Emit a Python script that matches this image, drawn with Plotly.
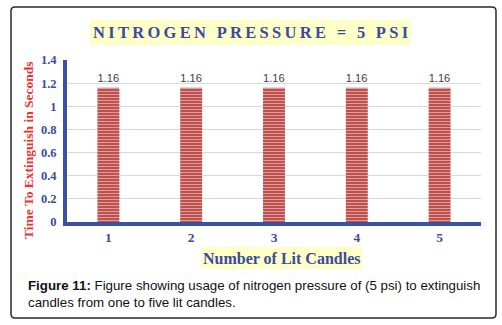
import plotly.graph_objects as go

# ---- data ----
candles = ["1", "2", "3", "4", "5"]
times = [1.16, 1.16, 1.16, 1.16, 1.16]
value_labels = ["1.16", "1.16", "1.16", "1.16", "1.16"]
y_ticks = [0, 0.2, 0.4, 0.6, 0.8, 1, 1.2, 1.4]
y_tick_labels = ["0", "0.2", "0.4", "0.6", "0.8", "1", "1.2", "1.4"]

title_text = "NITROGEN PRESSURE = 5 PSI"
x_title = "Number of Lit Candles"
y_title = "Time To Extinguish in Seconds"
caption = ("<b>Figure 11:</b> Figure showing usage of nitrogen pressure of (5 psi) to extinguish"
           "<br>candles from one to five lit candles.")

# ---- layout geometry (pixels) ----
W, H = 502, 325
PL, PR, PT, PB = 67, 481, 60, 222  # plot area edges


def px(x):
    return (x - PL) / (PR - PL)


def py(y):
    return (PB - y) / (PB - PT)


BLUE = "#3B51A3"
TITLE_BLUE = "#3A4B9E"
RED_TXT = "#F03030"
BAR_RED = "#C0504D"
YELLOW = "#FFFFC8"
SERIF = "Liberation Serif, Times New Roman, serif"
SANS = "Liberation Sans, Arial, sans-serif"

fig = go.Figure()
fig.add_trace(go.Bar(
    x=candles,
    y=times,
    width=0.265,
    text=value_labels,
    textposition="outside",
    textfont=dict(family=SANS, size=12, color="#404040"),
    cliponaxis=False,
    marker=dict(
        color=BAR_RED,
        line=dict(width=0),
        pattern=dict(shape="-", fgcolor="white", bgcolor=BAR_RED, size=3, solidity=0.3),
    ),
    hoverinfo="skip",
))

spaced_title = "\u2009".join(list(title_text))


def P(x, y):
    return f"{px(x):.5f},{py(y):.5f}"


# rounded frame path
fx0, fy0, fx1, fy1, r = 11, 7, 496, 318, 4
path = (f"M{P(fx0 + r, fy0)} L{P(fx1 - r, fy0)} Q{P(fx1, fy0)} {P(fx1, fy0 + r)} "
        f"L{P(fx1, fy1 - r)} Q{P(fx1, fy1)} {P(fx1 - r, fy1)} "
        f"L{P(fx0 + r, fy1)} Q{P(fx0, fy1)} {P(fx0, fy1 - r)} "
        f"L{P(fx0, fy0 + r)} Q{P(fx0, fy0)} {P(fx0 + r, fy0)} Z")

shapes = [
    dict(type="path", xref="paper", yref="paper", path=path,
         line=dict(color="#2a2a2a", width=1.5), fillcolor="rgba(0,0,0,0)", layer="above"),
    # title background
    dict(type="rect", xref="paper", yref="paper", x0=px(90), x1=px(411), y0=py(45), y1=py(20),
         fillcolor=YELLOW, line=dict(width=0), layer="below"),
    # x title background
    dict(type="rect", xref="paper", yref="paper", x0=px(201), x1=px(362), y0=py(269), y1=py(247),
         fillcolor=YELLOW, line=dict(width=0), layer="below"),
]

annotations = [
    dict(text=f"<b>{spaced_title}</b>", xref="paper", yref="paper", x=px(250.5), y=py(33),
         xanchor="center", yanchor="middle", showarrow=False,
         font=dict(family=SERIF, size=16.5, color=TITLE_BLUE)),
    dict(text=f"<b>{x_title}</b>", xref="paper", yref="paper", x=px(281.5), y=py(258),
         xanchor="center", yanchor="middle", showarrow=False,
         font=dict(family=SERIF, size=16, color=TITLE_BLUE)),
    dict(text=f"<b>{y_title}</b>", xref="paper", yref="paper", x=px(28), y=py(150),
         xanchor="center", yanchor="middle", showarrow=False, textangle=-90,
         font=dict(family=SERIF, size=13.5, color=RED_TXT)),
    dict(text=caption, xref="paper", yref="paper", x=px(26), y=py(294),
         xanchor="left", yanchor="middle", align="left", showarrow=False,
         font=dict(family=SANS, size=13.3, color="#111111")),
]

fig.update_layout(
    width=W, height=H,
    margin=dict(l=PL, r=W - PR, t=PT, b=H - PB, pad=0),
    paper_bgcolor="white",
    plot_bgcolor="white",
    showlegend=False,
    shapes=shapes,
    annotations=annotations,
)

fig.update_xaxes(
    type="category",
    showline=True, linecolor=BLUE, linewidth=4,
    showgrid=False, zeroline=False,
    ticks="",
    tickfont=dict(family=SERIF, size=13.5, color=TITLE_BLUE, weight="bold"),
)
fig.update_yaxes(
    range=[0, 1.4],
    tickvals=y_ticks, ticktext=y_tick_labels,
    showline=True, linecolor=BLUE, linewidth=4,
    showgrid=True, gridcolor="#D9D9D9", gridwidth=1,
    zeroline=False,
    ticks="outside", ticklen=4, tickcolor="rgba(0,0,0,0)",
    tickfont=dict(family=SERIF, size=12.5, color=TITLE_BLUE, weight="bold"),
)

fig.write_html("out.html", config={"displayModeBar": False},
               post_script="document.body.style.margin='0';document.body.style.overflow='hidden';")
